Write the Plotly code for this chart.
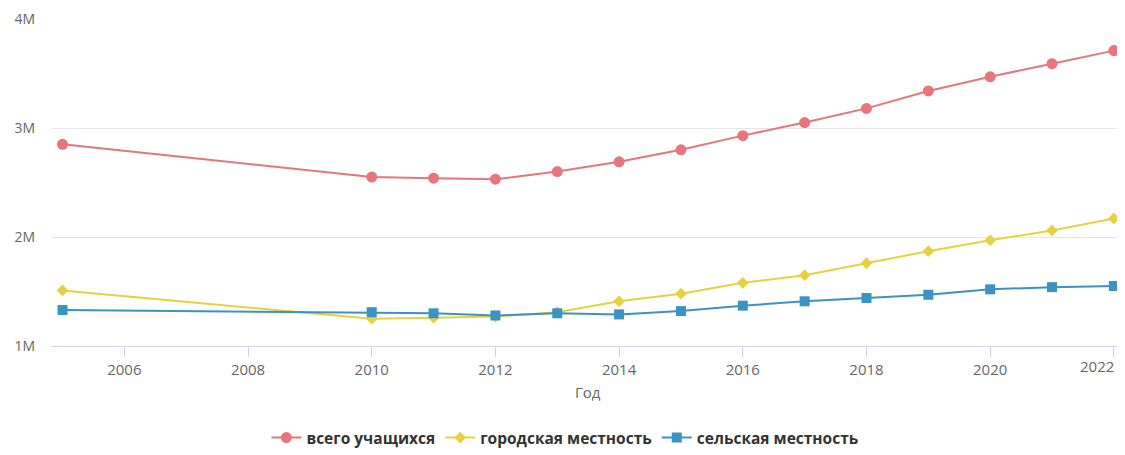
import plotly.graph_objects as go

years = [2005, 2010, 2011, 2012, 2013, 2014, 2015, 2016, 2017, 2018, 2019, 2020, 2021, 2022]
total = [2.85, 2.55, 2.54, 2.53, 2.60, 2.69, 2.80, 2.93, 3.05, 3.18, 3.34, 3.47, 3.59, 3.71]
urban = [1.51, 1.25, 1.26, 1.27, 1.31, 1.41, 1.48, 1.58, 1.65, 1.76, 1.87, 1.97, 2.06, 2.17]
rural = [1.33, 1.31, 1.30, 1.28, 1.30, 1.29, 1.32, 1.37, 1.41, 1.44, 1.47, 1.52, 1.54, 1.55]

names = ["всего учащихся", "городская местность", "сельская местность"]
y_tick_vals = [1e6, 2e6, 3e6, 4e6]
y_tick_text = ["1M", "2M", "3M", "4M"]
x_tick_vals = [2006, 2008, 2010, 2012, 2014, 2016, 2018, 2020, 2022]
# the last label is pushed inward (as in the original), drawn as an annotation
x_tick_text = [str(v) for v in x_tick_vals[:-1]] + [""]

colors = ["#e8747c", "#e6d13f", "#3b93c4"]
symbols = ["circle", "diamond", "square"]
sizes = [11, 9, 10]

fig = go.Figure()
for name, vals, c, s, sz in zip(names, [total, urban, rural], colors, symbols, sizes):
    fig.add_trace(go.Scatter(
        x=years, y=[v * 1e6 for v in vals], name=name, mode="lines+markers",
        line=dict(color=c, width=2),
        marker=dict(symbol=s, size=sz, color=c),
        cliponaxis=False,
    ))

# page body has an 8px margin, so the figure is shifted by 8px
fig.update_layout(
    width=1117, height=447,
    margin=dict(l=44, r=0, t=11, b=105),
    paper_bgcolor="white", plot_bgcolor="white",
    font=dict(family="Open Sans, sans-serif", color="#666666", size=13),
    showlegend=True,
    legend=dict(orientation="h", x=0.478, xanchor="center", y=-0.283, yanchor="middle",
                font=dict(size=15.5, color="#333333", weight="bold"), itemwidth=30,
                traceorder="normal"),
    xaxis=dict(range=[2004.83, 2022.18], tickvals=x_tick_vals, ticktext=x_tick_text,
               automargin=False, showgrid=False,
               showline=True, linecolor="#ccd6eb", linewidth=1,
               ticks="outside", ticklen=10, tickcolor="#ccd6eb",
               tickfont=dict(size=15, color="#666666"), zeroline=False),
    yaxis=dict(range=[1e6, 4e6], tickvals=y_tick_vals, ticktext=y_tick_text,
               automargin=False,
               showgrid=True, gridcolor="#e6e6e6", gridwidth=1, zeroline=False,
               showline=False, ticks="", ticklabelstandoff=16,
               tickfont=dict(size=14, color="#666666")),
    annotations=[
        dict(text="Год", x=0.4995, y=-0.142, xref="paper", yref="paper",
             xanchor="center", yanchor="middle", showarrow=False,
             font=dict(size=15, color="#666666")),
        dict(text=str(x_tick_vals[-1]), x=x_tick_vals[-1], y=-0.06, xref="x", yref="paper",
             xanchor="right", yanchor="middle", xshift=2, showarrow=False,
             font=dict(size=15, color="#666666")),
    ],
)

fig.write_html("out.html")
